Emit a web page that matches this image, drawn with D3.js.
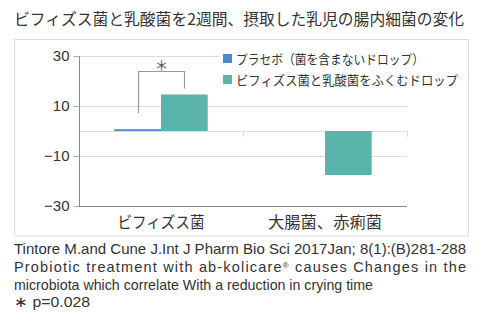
<!DOCTYPE html>
<html><head><meta charset="utf-8">
<script src="https://cdn.jsdelivr.net/npm/d3@7"></script>
<style>body{margin:0;background:#fff}svg{display:block}</style>
</head><body>
<script>
const title = "ビフィズス菌と乳酸菌を2週間、摂取した乳児の腸内細菌の変化";
const categories = ["ビフィズス菌", "大腸菌、赤痢菌"];
const seriesNames = ["プラセボ（菌を含まないドロップ）", "ビフィズス菌と乳酸菌をふくむドロップ"];
const placeboValues = [0.7, 0];
const probioticValues = [14.6, -17.6];
const seriesColors = ["#4a89cf", "#5ab4ab"];
const yTicks = [30, 10, -10, -30];
const sigBracket = {category: "ビフィズス菌", top: 24, leftEnd: 7.2, rightEnd: 17, label: "＊"};
const footnotes = [
  "Tintore M.and Cune J.Int J Pharm Bio Sci 2017Jan; 8(1):(B)281-288",
  "Probiotic treatment with ab-kolicare® causes Changes in the",
  "microbiota which correlate With a reduction in crying time",
  "∗ p=0.028"
];

const W = 481, H = 325;
const svg = d3.select("body").append("svg").attr("width", W).attr("height", H);
const jp = "'Noto Sans CJK JP', sans-serif";
const lat = "'Liberation Sans', Arial, sans-serif";
const txt = "#333";

svg.append("text").attr("x", 14).attr("y", 25).attr("font-family", jp).attr("font-size", 15.5)
  .attr("fill", txt).attr("textLength", 450).attr("lengthAdjust", "spacingAndGlyphs").text(title);

svg.append("rect").attr("x", 14.5).attr("y", 39.5).attr("width", 454).attr("height", 196.5)
  .attr("fill", "none").attr("stroke", "#ddd");

const y = d3.scaleLinear().domain([-30, 30]).range([206, 56]);
const x0 = d3.scaleBand().domain(categories).range([79, 407]).padding(0);
const x1 = d3.scaleBand().domain(seriesNames).range([0, x0.bandwidth()]).paddingInner(0).paddingOuter(0.756);

// gridlines
svg.append("g").selectAll("line").data(yTicks.filter(t => t !== -30).concat([0])).join("line")
  .attr("x1", 79).attr("x2", 407).attr("y1", d => Math.round(y(d)) + 0.5).attr("y2", d => Math.round(y(d)) + 0.5)
  .attr("stroke", "#ddd");
// zero-line category ticks
svg.append("g").selectAll("line").data(categories.concat(["end"])).join("line")
  .attr("x1", (d, i) => Math.round(79 + i * x0.step()) + 0.5).attr("x2", (d, i) => Math.round(79 + i * x0.step()) + 0.5)
  .attr("y1", Math.round(y(0))).attr("y2", Math.round(y(0)) + 6).attr("stroke", "#ddd");

// y axis
const yAxis = svg.append("g").attr("transform", "translate(79.5,0)")
  .call(d3.axisLeft(y).tickValues(yTicks).tickSize(6).tickPadding(4).tickFormat(d3.format("d")));
yAxis.select(".domain").attr("stroke", "#888").attr("d", `M0,${y(30)}V${y(-30)}`);
yAxis.selectAll(".tick line").attr("stroke", "#aaa");
yAxis.selectAll(".tick text").attr("font-family", lat).attr("font-size", 15).attr("fill", txt);
// x axis at bottom
svg.append("line").attr("x1", 79).attr("x2", 407).attr("y1", Math.round(y(-30)) + 0.5).attr("y2", Math.round(y(-30)) + 0.5)
  .attr("stroke", "#888");

// bars
const data = categories.map((c, i) => ({cat: c, vals: [placeboValues[i], probioticValues[i]]}));
const g = svg.append("g");
data.forEach(d => {
  d.vals.forEach((v, j) => {
    if (v === 0) return;
    g.append("rect")
      .attr("x", x0(d.cat) + x1(seriesNames[j]))
      .attr("width", x1.bandwidth())
      .attr("y", y(Math.max(0, v)))
      .attr("height", Math.abs(y(v) - y(0)))
      .attr("fill", seriesColors[j]);
  });
});

// category labels
const labelWidths = [87, 114];
svg.append("g").selectAll("text").data(categories).join("text")
  .attr("x", (d, i) => x0(d) + x0.bandwidth() / 2 - labelWidths[i] / 2).attr("y", 228)
  .attr("font-family", jp).attr("font-size", 15.5).attr("fill", txt)
  .attr("textLength", (d, i) => labelWidths[i]).attr("lengthAdjust", "spacingAndGlyphs").text(d => d);

// significance bracket
const bx = x0(sigBracket.category);
const lx = Math.round(bx + x1(seriesNames[0]) + x1.bandwidth() / 2) + 0.5;
const rx = Math.round(bx + x1(seriesNames[1]) + x1.bandwidth() / 2) + 0.5;
const ty = Math.round(y(sigBracket.top)) + 0.5;
svg.append("path").attr("d", `M${lx},${y(sigBracket.leftEnd)}V${ty}H${rx}V${y(sigBracket.rightEnd)}`)
  .attr("fill", "none").attr("stroke", "#999").attr("stroke-width", 1.2);
svg.append("text").attr("x", (lx + rx) / 2).attr("y", ty - 2).attr("text-anchor", "middle")
  .attr("font-family", jp).attr("font-size", 14).attr("fill", "#555").text(sigBracket.label);

// legend
const legWidths = [188, 222];
const leg = svg.append("g");
leg.append("rect").attr("x", 220).attr("y", 45).attr("width", 245).attr("height", 45).attr("fill", "#fff");
seriesNames.forEach((s, i) => {
  const cy = 58.5 + i * 21;
  leg.append("rect").attr("x", 223).attr("y", cy - 4.5).attr("width", 9).attr("height", 9).attr("fill", seriesColors[i]);
  leg.append("text").attr("x", 236).attr("y", cy + 5.5).attr("font-family", jp).attr("font-size", 13)
    .attr("fill", txt).attr("textLength", legWidths[i]).attr("lengthAdjust", "spacingAndGlyphs").text(s);
});

// footnotes
const fnWidths = [452, 452, 359, 76];
const fnAdjust = ["spacingAndGlyphs", "spacing", "spacingAndGlyphs", "spacingAndGlyphs"];
const fnY = [254, 272, 289.5, 307];
const fn = svg.append("g").selectAll("text").data(footnotes).join("text")
  .attr("x", 14).attr("y", (d, i) => fnY[i])
  .attr("font-family", lat).attr("font-size", 14.5).attr("fill", txt)
  .attr("textLength", (d, i) => fnWidths[i]).attr("lengthAdjust", (d, i) => fnAdjust[i]);
fn.each(function(d) {
  const t = d3.select(this);
  const parts = d.split("®");
  if (parts.length === 1) { t.text(d); return; }
  t.append("tspan").text(parts[0]);
  t.append("tspan").attr("font-size", 8).attr("baseline-shift", "super").text("®");
  t.append("tspan").text(parts[1]);
});
</script>
</body></html>
